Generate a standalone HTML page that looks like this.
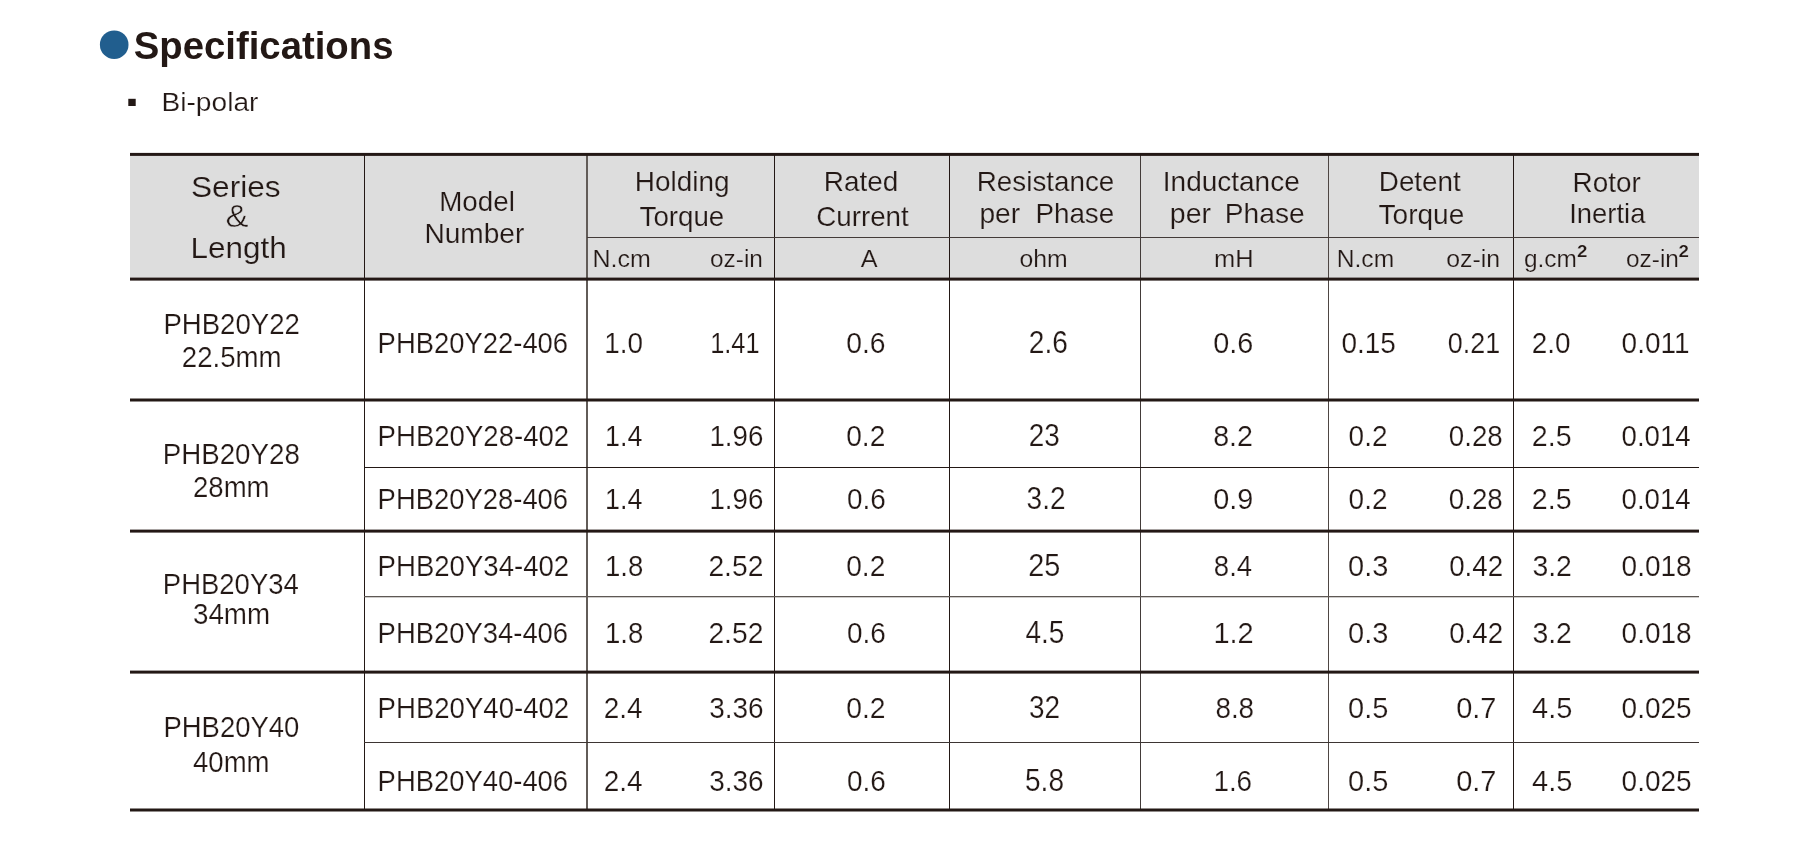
<!DOCTYPE html>
<html><head><meta charset="utf-8"><title>Specifications</title><style>
html,body{margin:0;padding:0;background:#fff;width:1800px;height:849px;overflow:hidden}
svg{display:block;will-change:transform}
text{font-family:"Liberation Sans",sans-serif;fill:#231815}
</style></head><body>
<svg width="1800" height="849" viewBox="0 0 1800 849">
<rect x="130" y="155.5" width="1569" height="122.5" fill="#dddddd"/>
<rect x="364" y="155" width="1" height="654" fill="#231815"/>
<rect x="586" y="155" width="2" height="654" fill="#625c58"/>
<rect x="774" y="155" width="1" height="654" fill="#231815"/>
<rect x="949" y="155" width="1" height="654" fill="#231815"/>
<rect x="1140" y="155" width="1" height="654" fill="#433b39"/>
<rect x="1328" y="155" width="1" height="654" fill="#4e4643"/>
<rect x="1513" y="155" width="1" height="654" fill="#231815"/>
<rect x="587" y="237" width="1112" height="1" fill="#433b39"/>
<rect x="364" y="467" width="1335" height="1" fill="#231815"/>
<rect x="364" y="596" width="1335" height="1.3" fill="#5e5854"/>
<rect x="364" y="742" width="1335" height="1" fill="#3d3533"/>
<rect x="130" y="152.9" width="1569" height="3" fill="#231815"/>
<rect x="130" y="277.6" width="1569" height="3" fill="#231815"/>
<rect x="130" y="398.5" width="1569" height="3" fill="#231815"/>
<rect x="130" y="529.6" width="1569" height="3" fill="#231815"/>
<rect x="130" y="670.6" width="1569" height="3" fill="#231815"/>
<rect x="130" y="808.5" width="1569" height="3" fill="#231815"/>
<circle cx="114.2" cy="44.7" r="14.3" fill="#215e8e"/>
<rect x="128.3" y="98.8" width="7.4" height="7.2" fill="#231815"/>
<text x="133.80" y="58.7" font-size="38" font-weight="bold" textLength="259.64" lengthAdjust="spacingAndGlyphs">Specifications</text>
<text x="161.50" y="110.8" font-size="25" textLength="96.91" lengthAdjust="spacingAndGlyphs" stroke="#ffffff" stroke-width="0.2">Bi-polar</text>
<text x="191.00" y="196.5" font-size="29.5" textLength="89.63" lengthAdjust="spacingAndGlyphs" stroke="#dddddd" stroke-width="0.2">Series</text>
<text x="225.60" y="226.7" font-size="31.5" textLength="23.02" lengthAdjust="spacingAndGlyphs" stroke="#dddddd" stroke-width="0.5">&amp;</text>
<text x="190.60" y="257.8" font-size="29.5" textLength="96.23" lengthAdjust="spacingAndGlyphs" stroke="#dddddd" stroke-width="0.2">Length</text>
<text x="439.20" y="210.9" font-size="28.5" textLength="75.63" lengthAdjust="spacingAndGlyphs" stroke="#dddddd" stroke-width="0.2">Model</text>
<text x="424.40" y="243.1" font-size="28.5" textLength="99.88" lengthAdjust="spacingAndGlyphs" stroke="#dddddd" stroke-width="0.2">Number</text>
<text x="634.80" y="190.9" font-size="28.5" textLength="94.66" lengthAdjust="spacingAndGlyphs" stroke="#dddddd" stroke-width="0.2">Holding</text>
<text x="639.60" y="225.8" font-size="28.5" textLength="84.66" lengthAdjust="spacingAndGlyphs" stroke="#dddddd" stroke-width="0.2">Torque</text>
<text x="823.80" y="190.9" font-size="28.5" textLength="74.56" lengthAdjust="spacingAndGlyphs" stroke="#dddddd" stroke-width="0.2">Rated</text>
<text x="816.20" y="225.8" font-size="28.5" textLength="92.55" lengthAdjust="spacingAndGlyphs" stroke="#dddddd" stroke-width="0.2">Current</text>
<text x="976.80" y="191.1" font-size="28.5" textLength="137.48" lengthAdjust="spacingAndGlyphs" stroke="#dddddd" stroke-width="0.2">Resistance</text>
<text x="979.40" y="222.7" font-size="28.5" textLength="40.70" lengthAdjust="spacingAndGlyphs" stroke="#dddddd" stroke-width="0.2">per</text>
<text x="1035.40" y="222.7" font-size="28.5" textLength="78.81" lengthAdjust="spacingAndGlyphs" stroke="#dddddd" stroke-width="0.2">Phase</text>
<text x="1162.80" y="191.1" font-size="28.5" textLength="136.95" lengthAdjust="spacingAndGlyphs" stroke="#dddddd" stroke-width="0.2">Inductance</text>
<text x="1169.80" y="222.7" font-size="28.5" stroke="#dddddd" stroke-width="0.2">per</text>
<text x="1224.80" y="222.7" font-size="28.5" textLength="79.81" lengthAdjust="spacingAndGlyphs" stroke="#dddddd" stroke-width="0.2">Phase</text>
<text x="1378.80" y="190.9" font-size="28.5" textLength="81.98" lengthAdjust="spacingAndGlyphs" stroke="#dddddd" stroke-width="0.2">Detent</text>
<text x="1378.60" y="223.8" font-size="28.5" textLength="85.66" lengthAdjust="spacingAndGlyphs" stroke="#dddddd" stroke-width="0.2">Torque</text>
<text x="1572.60" y="191.8" font-size="28.5" textLength="68.20" lengthAdjust="spacingAndGlyphs" stroke="#dddddd" stroke-width="0.2">Rotor</text>
<text x="1569.20" y="222.9" font-size="28.5" textLength="76.22" lengthAdjust="spacingAndGlyphs" stroke="#dddddd" stroke-width="0.2">Inertia</text>
<text x="592.40" y="266.9" font-size="23.5" textLength="58.33" lengthAdjust="spacingAndGlyphs" stroke="#dddddd" stroke-width="0.2">N.cm</text>
<text x="710.00" y="266.9" font-size="23.5" textLength="52.94" lengthAdjust="spacingAndGlyphs" stroke="#dddddd" stroke-width="0.2">oz-in</text>
<text x="860.80" y="267.1" font-size="23.5" textLength="16.89" lengthAdjust="spacingAndGlyphs" stroke="#dddddd" stroke-width="0.2">A</text>
<text x="1019.40" y="267" font-size="23.5" textLength="48.22" lengthAdjust="spacingAndGlyphs" stroke="#dddddd" stroke-width="0.2">ohm</text>
<text x="1214.00" y="267.2" font-size="23.5" textLength="39.55" lengthAdjust="spacingAndGlyphs" stroke="#dddddd" stroke-width="0.2">mH</text>
<text x="1336.80" y="267" font-size="23.5" textLength="57.33" lengthAdjust="spacingAndGlyphs" stroke="#dddddd" stroke-width="0.2">N.cm</text>
<text x="1446.20" y="267" font-size="23.5" textLength="53.94" lengthAdjust="spacingAndGlyphs" stroke="#dddddd" stroke-width="0.2">oz-in</text>
<text x="1524.00" y="266.8" font-size="23.5" textLength="52.94" lengthAdjust="spacingAndGlyphs" stroke="#dddddd" stroke-width="0.2">g.cm</text>
<text x="1577.00" y="256.9" font-size="16" font-weight="bold" textLength="10.41" lengthAdjust="spacingAndGlyphs" stroke="#dddddd" stroke-width="0.2">2</text>
<text x="1626.00" y="267" font-size="23.5" textLength="52.94" lengthAdjust="spacingAndGlyphs" stroke="#dddddd" stroke-width="0.2">oz-in</text>
<text x="1678.60" y="256.9" font-size="16" font-weight="bold" textLength="10.41" lengthAdjust="spacingAndGlyphs" stroke="#dddddd" stroke-width="0.2">2</text>
<text x="163.40" y="333.8" font-size="29" textLength="136.50" lengthAdjust="spacingAndGlyphs" stroke="#ffffff" stroke-width="0.2">PHB20Y22</text>
<text x="181.80" y="366.9" font-size="29" textLength="99.77" lengthAdjust="spacingAndGlyphs" stroke="#ffffff" stroke-width="0.2">22.5mm</text>
<text x="162.80" y="463.9" font-size="29" textLength="137.00" lengthAdjust="spacingAndGlyphs" stroke="#ffffff" stroke-width="0.2">PHB20Y28</text>
<text x="193.00" y="497.3" font-size="29" textLength="76.58" lengthAdjust="spacingAndGlyphs" stroke="#ffffff" stroke-width="0.2">28mm</text>
<text x="162.80" y="594" font-size="29" textLength="136.00" lengthAdjust="spacingAndGlyphs" stroke="#ffffff" stroke-width="0.2">PHB20Y34</text>
<text x="193.00" y="623.7" font-size="29" textLength="77.08" lengthAdjust="spacingAndGlyphs" stroke="#ffffff" stroke-width="0.2">34mm</text>
<text x="163.40" y="737.1" font-size="29" textLength="136.00" lengthAdjust="spacingAndGlyphs" stroke="#ffffff" stroke-width="0.2">PHB20Y40</text>
<text x="193.00" y="772.1" font-size="29" textLength="76.58" lengthAdjust="spacingAndGlyphs" stroke="#ffffff" stroke-width="0.2">40mm</text>
<text x="377.60" y="353" font-size="29" textLength="190.53" lengthAdjust="spacingAndGlyphs" stroke="#ffffff" stroke-width="0.2">PHB20Y22-406</text>
<text x="377.60" y="445.5" font-size="29" textLength="191.53" lengthAdjust="spacingAndGlyphs" stroke="#ffffff" stroke-width="0.2">PHB20Y28-402</text>
<text x="377.60" y="508.8" font-size="29" textLength="190.53" lengthAdjust="spacingAndGlyphs" stroke="#ffffff" stroke-width="0.2">PHB20Y28-406</text>
<text x="377.60" y="575.5" font-size="29" textLength="191.53" lengthAdjust="spacingAndGlyphs" stroke="#ffffff" stroke-width="0.2">PHB20Y34-402</text>
<text x="377.60" y="643" font-size="29" textLength="190.53" lengthAdjust="spacingAndGlyphs" stroke="#ffffff" stroke-width="0.2">PHB20Y34-406</text>
<text x="377.60" y="718" font-size="29" textLength="191.53" lengthAdjust="spacingAndGlyphs" stroke="#ffffff" stroke-width="0.2">PHB20Y40-402</text>
<text x="377.60" y="790.7" font-size="29" textLength="190.53" lengthAdjust="spacingAndGlyphs" stroke="#ffffff" stroke-width="0.2">PHB20Y40-406</text>
<text x="604.20" y="353" font-size="29" textLength="38.83" lengthAdjust="spacingAndGlyphs" stroke="#ffffff" stroke-width="0.2">1.0</text>
<text x="605.00" y="445.5" font-size="29" textLength="37.33" lengthAdjust="spacingAndGlyphs" stroke="#ffffff" stroke-width="0.2">1.4</text>
<text x="605.00" y="508.8" font-size="29" textLength="37.33" lengthAdjust="spacingAndGlyphs" stroke="#ffffff" stroke-width="0.2">1.4</text>
<text x="605.00" y="575.5" font-size="29" textLength="38.33" lengthAdjust="spacingAndGlyphs" stroke="#ffffff" stroke-width="0.2">1.8</text>
<text x="605.00" y="643" font-size="29" textLength="38.33" lengthAdjust="spacingAndGlyphs" stroke="#ffffff" stroke-width="0.2">1.8</text>
<text x="603.80" y="718" font-size="29" textLength="38.83" lengthAdjust="spacingAndGlyphs" stroke="#ffffff" stroke-width="0.2">2.4</text>
<text x="603.80" y="790.7" font-size="29" textLength="38.83" lengthAdjust="spacingAndGlyphs" stroke="#ffffff" stroke-width="0.2">2.4</text>
<text x="710.20" y="353" font-size="29" textLength="49.45" lengthAdjust="spacingAndGlyphs" stroke="#ffffff" stroke-width="0.2">1.41</text>
<text x="709.40" y="445.5" font-size="29" textLength="53.95" lengthAdjust="spacingAndGlyphs" stroke="#ffffff" stroke-width="0.2">1.96</text>
<text x="709.40" y="508.8" font-size="29" textLength="53.95" lengthAdjust="spacingAndGlyphs" stroke="#ffffff" stroke-width="0.2">1.96</text>
<text x="708.40" y="575.5" font-size="29" textLength="54.95" lengthAdjust="spacingAndGlyphs" stroke="#ffffff" stroke-width="0.2">2.52</text>
<text x="708.40" y="643" font-size="29" textLength="54.95" lengthAdjust="spacingAndGlyphs" stroke="#ffffff" stroke-width="0.2">2.52</text>
<text x="709.20" y="718" font-size="29" textLength="54.45" lengthAdjust="spacingAndGlyphs" stroke="#ffffff" stroke-width="0.2">3.36</text>
<text x="709.20" y="790.7" font-size="29" textLength="54.45" lengthAdjust="spacingAndGlyphs" stroke="#ffffff" stroke-width="0.2">3.36</text>
<text x="846.20" y="353" font-size="29" textLength="39.33" lengthAdjust="spacingAndGlyphs" stroke="#ffffff" stroke-width="0.2">0.6</text>
<text x="846.20" y="445.5" font-size="29" textLength="39.13" lengthAdjust="spacingAndGlyphs" stroke="#ffffff" stroke-width="0.2">0.2</text>
<text x="847.00" y="508.8" font-size="29" textLength="38.83" lengthAdjust="spacingAndGlyphs" stroke="#ffffff" stroke-width="0.2">0.6</text>
<text x="846.20" y="575.5" font-size="29" textLength="39.13" lengthAdjust="spacingAndGlyphs" stroke="#ffffff" stroke-width="0.2">0.2</text>
<text x="847.00" y="643" font-size="29" textLength="38.83" lengthAdjust="spacingAndGlyphs" stroke="#ffffff" stroke-width="0.2">0.6</text>
<text x="846.20" y="718" font-size="29" textLength="39.33" lengthAdjust="spacingAndGlyphs" stroke="#ffffff" stroke-width="0.2">0.2</text>
<text x="847.00" y="790.7" font-size="29" textLength="38.83" lengthAdjust="spacingAndGlyphs" stroke="#ffffff" stroke-width="0.2">0.6</text>
<text x="1213.20" y="353" font-size="29" textLength="40.13" lengthAdjust="spacingAndGlyphs" stroke="#ffffff" stroke-width="0.2">0.6</text>
<text x="1213.20" y="445.5" font-size="29" textLength="39.83" lengthAdjust="spacingAndGlyphs" stroke="#ffffff" stroke-width="0.2">8.2</text>
<text x="1213.20" y="508.8" font-size="29" textLength="40.13" lengthAdjust="spacingAndGlyphs" stroke="#ffffff" stroke-width="0.2">0.9</text>
<text x="1213.80" y="575.5" font-size="29" textLength="38.33" lengthAdjust="spacingAndGlyphs" stroke="#ffffff" stroke-width="0.2">8.4</text>
<text x="1213.40" y="643" font-size="29" stroke="#ffffff" stroke-width="0.2">1.2</text>
<text x="1215.40" y="718" font-size="29" textLength="38.73" lengthAdjust="spacingAndGlyphs" stroke="#ffffff" stroke-width="0.2">8.8</text>
<text x="1213.40" y="790.7" font-size="29" textLength="38.73" lengthAdjust="spacingAndGlyphs" stroke="#ffffff" stroke-width="0.2">1.6</text>
<text x="1341.40" y="353" font-size="29" textLength="54.45" lengthAdjust="spacingAndGlyphs" stroke="#ffffff" stroke-width="0.2">0.15</text>
<text x="1348.60" y="445.5" font-size="29" textLength="38.93" lengthAdjust="spacingAndGlyphs" stroke="#ffffff" stroke-width="0.2">0.2</text>
<text x="1348.60" y="508.8" font-size="29" textLength="38.93" lengthAdjust="spacingAndGlyphs" stroke="#ffffff" stroke-width="0.2">0.2</text>
<text x="1348.00" y="575.5" font-size="29" stroke="#ffffff" stroke-width="0.2">0.3</text>
<text x="1348.00" y="643" font-size="29" stroke="#ffffff" stroke-width="0.2">0.3</text>
<text x="1348.00" y="718" font-size="29" stroke="#ffffff" stroke-width="0.2">0.5</text>
<text x="1348.00" y="790.7" font-size="29" stroke="#ffffff" stroke-width="0.2">0.5</text>
<text x="1447.80" y="353" font-size="29" textLength="52.45" lengthAdjust="spacingAndGlyphs" stroke="#ffffff" stroke-width="0.2">0.21</text>
<text x="1448.80" y="445.5" font-size="29" textLength="53.95" lengthAdjust="spacingAndGlyphs" stroke="#ffffff" stroke-width="0.2">0.28</text>
<text x="1448.80" y="508.8" font-size="29" textLength="53.95" lengthAdjust="spacingAndGlyphs" stroke="#ffffff" stroke-width="0.2">0.28</text>
<text x="1449.20" y="575.5" font-size="29" textLength="53.95" lengthAdjust="spacingAndGlyphs" stroke="#ffffff" stroke-width="0.2">0.42</text>
<text x="1449.20" y="643" font-size="29" textLength="53.95" lengthAdjust="spacingAndGlyphs" stroke="#ffffff" stroke-width="0.2">0.42</text>
<text x="1456.20" y="718" font-size="29" stroke="#ffffff" stroke-width="0.2">0.7</text>
<text x="1456.20" y="790.7" font-size="29" stroke="#ffffff" stroke-width="0.2">0.7</text>
<text x="1531.80" y="353" font-size="29" textLength="38.83" lengthAdjust="spacingAndGlyphs" stroke="#ffffff" stroke-width="0.2">2.0</text>
<text x="1531.80" y="445.5" font-size="29" textLength="39.83" lengthAdjust="spacingAndGlyphs" stroke="#ffffff" stroke-width="0.2">2.5</text>
<text x="1531.80" y="508.8" font-size="29" textLength="39.83" lengthAdjust="spacingAndGlyphs" stroke="#ffffff" stroke-width="0.2">2.5</text>
<text x="1532.40" y="575.5" font-size="29" textLength="39.53" lengthAdjust="spacingAndGlyphs" stroke="#ffffff" stroke-width="0.2">3.2</text>
<text x="1532.40" y="643" font-size="29" textLength="39.53" lengthAdjust="spacingAndGlyphs" stroke="#ffffff" stroke-width="0.2">3.2</text>
<text x="1532.00" y="718" font-size="29" textLength="40.33" lengthAdjust="spacingAndGlyphs" stroke="#ffffff" stroke-width="0.2">4.5</text>
<text x="1532.00" y="790.7" font-size="29" textLength="40.33" lengthAdjust="spacingAndGlyphs" stroke="#ffffff" stroke-width="0.2">4.5</text>
<text x="1621.60" y="353" font-size="29" textLength="67.92" lengthAdjust="spacingAndGlyphs" stroke="#ffffff" stroke-width="0.2">0.011</text>
<text x="1621.60" y="445.5" font-size="29" textLength="69.08" lengthAdjust="spacingAndGlyphs" stroke="#ffffff" stroke-width="0.2">0.014</text>
<text x="1621.60" y="508.8" font-size="29" textLength="69.08" lengthAdjust="spacingAndGlyphs" stroke="#ffffff" stroke-width="0.2">0.014</text>
<text x="1621.60" y="575.5" font-size="29" textLength="70.08" lengthAdjust="spacingAndGlyphs" stroke="#ffffff" stroke-width="0.2">0.018</text>
<text x="1621.60" y="643" font-size="29" textLength="70.08" lengthAdjust="spacingAndGlyphs" stroke="#ffffff" stroke-width="0.2">0.018</text>
<text x="1621.60" y="718" font-size="29" textLength="70.08" lengthAdjust="spacingAndGlyphs" stroke="#ffffff" stroke-width="0.2">0.025</text>
<text x="1621.60" y="790.7" font-size="29" textLength="70.08" lengthAdjust="spacingAndGlyphs" stroke="#ffffff" stroke-width="0.2">0.025</text>
<text x="1028.80" y="353" font-size="32" textLength="38.98" lengthAdjust="spacingAndGlyphs" stroke="#ffffff" stroke-width="0.2">2.6</text>
<text x="1028.80" y="445.5" font-size="32" textLength="31.09" lengthAdjust="spacingAndGlyphs" stroke="#ffffff" stroke-width="0.2">23</text>
<text x="1026.60" y="508.8" font-size="32" textLength="38.98" lengthAdjust="spacingAndGlyphs" stroke="#ffffff" stroke-width="0.2">3.2</text>
<text x="1028.20" y="575.5" font-size="32" textLength="32.09" lengthAdjust="spacingAndGlyphs" stroke="#ffffff" stroke-width="0.2">25</text>
<text x="1025.40" y="643" font-size="32" textLength="38.98" lengthAdjust="spacingAndGlyphs" stroke="#ffffff" stroke-width="0.2">4.5</text>
<text x="1029.00" y="718" font-size="32" textLength="31.09" lengthAdjust="spacingAndGlyphs" stroke="#ffffff" stroke-width="0.2">32</text>
<text x="1025.00" y="790.7" font-size="32" textLength="38.98" lengthAdjust="spacingAndGlyphs" stroke="#ffffff" stroke-width="0.2">5.8</text>
</svg>
</body></html>
